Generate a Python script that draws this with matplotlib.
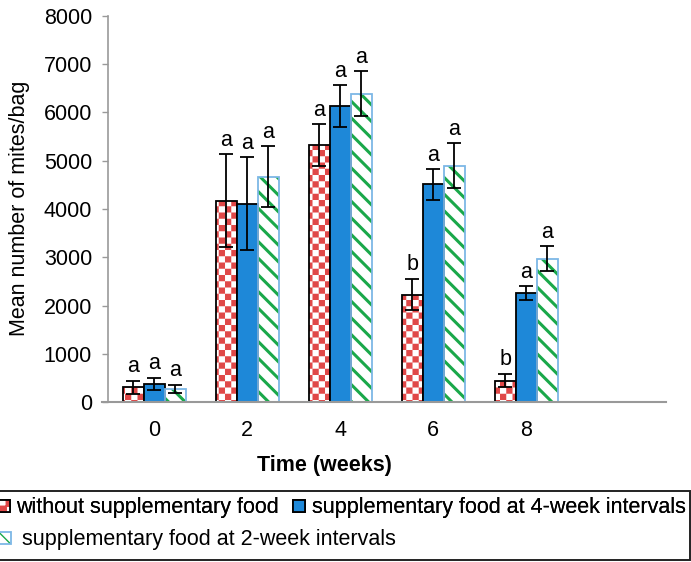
import numpy as np
import matplotlib
matplotlib.use("Agg")
import matplotlib as mpl
import matplotlib.pyplot as plt
import matplotlib.hatch as mhatch
from matplotlib.patches import Rectangle
from matplotlib.legend_handler import HandlerTuple

# ---------------- data ----------------
categories = ["0", "2", "4", "6", "8", ""]
series_names = ["without supplementary food",
                "supplementary food at 4-week intervals",
                "supplementary food at 2-week intervals"]
no_food = [310, 4170, 5320, 2230, 450]
no_food_err = [135, 960, 430, 325, 140]
food_4wk = [380, 4110, 6130, 4510, 2260]
food_4wk_err = [130, 965, 430, 320, 140]
food_2wk = [280, 4670, 6390, 4900, 2970]
food_2wk_err = [85, 635, 460, 460, 262]
letters_no_food = ["a", "a", "a", "b", "b"]
letters_4wk = ["a", "a", "a", "a", "a"]
letters_2wk = ["a", "a", "a", "a", "a"]
y_ticks = [0, 1000, 2000, 3000, 4000, 5000, 6000, 7000, 8000]

# ---------------- checker hatch ----------------
class CheckerHatch(mhatch.HatchPatternBase):
    def __init__(self, hatch, density):
        c = hatch.count("O")
        self.n = 16 * c if c else 0
        self.squares = [(i, j) for i in range(self.n) for j in range(self.n)
                        if (i + j) % 2 == 0]
        self.num_vertices = 5 * len(self.squares)

    def set_vertices_and_codes(self, vertices, codes):
        s = 1.0 / self.n
        k = 0
        for i, j in self.squares:
            x0, y0 = i * s, j * s
            vertices[k:k + 5] = [(x0, y0), (x0 + s, y0), (x0 + s, y0 + s),
                                 (x0, y0 + s), (x0, y0)]
            codes[k:k + 5] = [1, 2, 2, 2, 79]
            k += 5

mhatch._hatch_types = [t for t in mhatch._hatch_types
                       if t is not mhatch.LargeCircles] + [CheckerHatch]


def set_hatch_lw(artist, lw):
    try:
        artist.set_hatch_linewidth(lw)
    except AttributeError:
        pass
    orig = artist.draw

    def draw(renderer, _orig=orig, _lw=lw):
        with mpl.rc_context({"hatch.linewidth": _lw}):
            _orig(renderer)
    artist.draw = draw


plt.rcParams["font.family"] = ["Liberation Sans", "DejaVu Sans"]
FS = 15.5

RED = "#E04848"
BLUE = "#1E88D8"
GREEN = "#1AA84A"
GEDGE = "#7DB7E6"

W, H = 691, 562
fig = plt.figure(figsize=(W / 100, H / 100), dpi=100)
ax = fig.add_axes([108 / W, 1 - 402.3 / H, 557.5 / W, (402.3 - 15.7) / H])

x = np.arange(len(no_food))
bw = 0.226

# red checker bars
with mpl.rc_context({"hatch.linewidth": 0.01}):
    red_fill = ax.bar(x - bw, no_food, bw, color="white", edgecolor=RED,
                      hatch="O", linewidth=0, zorder=2)
for p in red_fill:
    set_hatch_lw(p, 0.01)
red_edge = ax.bar(x - bw, no_food, bw, fill=False, edgecolor="black",
                  linewidth=1.3, zorder=3)

blue_bars = ax.bar(x, food_4wk, bw, color=BLUE, edgecolor="black",
                   linewidth=1.3, zorder=3)

with mpl.rc_context({"hatch.linewidth": 2.2}):
    green_fill = ax.bar(x + bw, food_2wk, bw, color="white", edgecolor=GREEN,
                        hatch="\\\\", linewidth=0, zorder=2)
for p in green_fill:
    set_hatch_lw(p, 2.2)
green_edge = ax.bar(x + bw, food_2wk, bw, fill=False, edgecolor=GEDGE,
                    linewidth=1.3, zorder=3)

# error bars
for off, vals, errs in [(-bw, no_food, no_food_err), (0, food_4wk, food_4wk_err),
                        (bw, food_2wk, food_2wk_err)]:
    ax.errorbar(x + off, vals, yerr=errs, fmt="none", ecolor="black",
                elinewidth=1.3, capsize=5, capthick=1.3, zorder=4)

# letters
for off, vals, errs, labs in [(-bw, no_food, no_food_err, letters_no_food),
                              (0, food_4wk, food_4wk_err, letters_4wk),
                              (bw, food_2wk, food_2wk_err, letters_2wk)]:
    for xi, v, e, l in zip(x + off, vals, errs, labs):
        ax.annotate(l, (xi, v + e), xytext=(0, 6), textcoords="offset points",
                    ha="center", va="baseline", fontsize=FS, zorder=5)

# axes styling
ax.set_xlim(-0.5, len(categories) - 0.5)
ax.set_ylim(0, 8000)
ax.set_yticks(y_ticks)
ax.set_yticklabels([str(t) for t in y_ticks], fontsize=FS)
ax.set_xticks(np.arange(len(categories)))
ax.set_xticklabels(categories, fontsize=FS)
ax.tick_params(axis="x", length=0, pad=13)
ax.tick_params(axis="y", length=4.5, width=1, color="#999999", pad=7)
for s in ["top", "right"]:
    ax.spines[s].set_visible(False)
ax.spines["left"].set_color("#999999")
ax.spines["left"].set_linewidth(1.2)
ax.spines["bottom"].set_visible(False)
ax.axhline(0, xmin=-0.011, xmax=1.0, color="#999999", lw=1.5,
           clip_on=False, zorder=6)

fig.text(20 / W, 1 - 208.5 / H, "Mean number of mites/bag", rotation=90,
         ha="center", va="center", fontsize=FS)
fig.text(324.7 / W, 1 - 465 / H, "Time (weeks)", ha="center", va="center",
         fontsize=FS, fontweight="bold")

# legend frame
fig.add_artist(Rectangle((-0.01, 1 - 560 / H), 690 / W + 0.01, (560 - 491) / H,
                         transform=fig.transFigure, fill=False,
                         edgecolor="#222222", linewidth=1.4))

h_red = (red_fill[0], red_edge[0])
h_blue = blue_bars[0]
h_green = (green_fill[0], green_edge[0])
hmap = {tuple: HandlerTuple(ndivide=1, pad=0)}

leg1 = fig.legend([h_red, h_blue], series_names[:2], ncol=2,
                  loc="center left", bbox_to_anchor=(-2 / W, 1 - 508 / H),
                  frameon=False, fontsize=FS, handlelength=0.56,
                  handleheight=0.5, handletextpad=0.3, columnspacing=0.65,
                  borderpad=0, borderaxespad=0, handler_map=hmap)
fig.add_artist(leg1)
leg2 = fig.legend([h_green], series_names[2:], loc="center left",
                  bbox_to_anchor=(-1 / W, 1 - 540 / H), frameon=False,
                  fontsize=FS, handlelength=0.56, handleheight=0.5,
                  handletextpad=0.5, borderpad=0, borderaxespad=0,
                  handler_map=hmap)

fig.savefig("out.png", dpi=100)
